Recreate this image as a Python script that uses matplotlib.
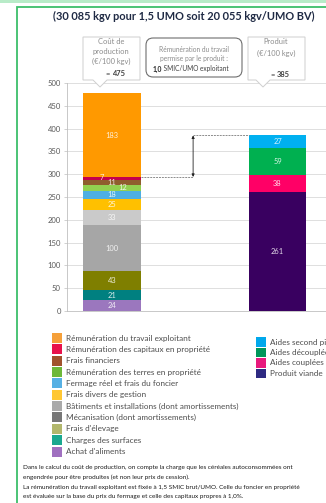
import matplotlib
matplotlib.use("Agg")
import matplotlib.pyplot as plt
from matplotlib.patches import Rectangle, FancyBboxPatch, Polygon

plt.rcParams['font.family'] = ['Lato', 'DejaVu Sans']

# ---------------- data ----------------
bars = ["Coût de production", "Produit"]
cost_labels = ["Achat d'aliments", "Charges des surfaces", "Frais d'élevage",
               "Mécanisation (dont amortissements)",
               "Bâtiments et installations (dont amortissements)",
               "Frais divers de gestion", "Fermage réel et frais du foncier",
               "Rémunération des terres en propriété", "Frais financiers",
               "Rémunération des capitaux en propriété",
               "Rémunération du travail exploitant"]
cost_values = [24, 21, 43, 100, 33, 25, 18, 12, 11, 7, 183]
prod_labels = ["Produit viande", "Aides couplées", "Aides découplées",
               "Aides second pilier"]
prod_values = [261, 38, 59, 27]
cost_total_text = "475"
prod_total_text = "385"
title = "(30 085 kgv pour 1,5 UMO soit 20 055 kgv/UMO BV)"
yticks = [0, 50, 100, 150, 200, 250, 300, 350, 400, 450, 500]
footer = ["Dans le calcul du coût de production, on compte la charge que les céréales autoconsommées ont",
          "engendrée pour être produites (et non leur prix de cession).",
          "La rémunération du travail exploitant est fixée à 1,5 SMIC brut/UMO. Celle du foncier en propriété",
          "est évaluée sur la base du prix du fermage et celle des capitaux propres à 1,0%."]

# ---------------- style ----------------
cost_colors = ["#9B77BE", "#008080", "#7F7F00", "#A6A6A6", "#CACACA", "#FFC000",
               "#4EAFE2", "#92D050", "#8F5E2E", "#C4004C", "#FF9900"]
prod_colors = ["#390060", "#FF0066", "#00B050", "#00B0F0"]
cost_leg_colors = ["#A070C0", "#1AA88F", "#B2B76C", "#777777", "#AAAAAA", "#FFC733",
                   "#56B0E4", "#6DB83A", "#A0522D", "#E8124C", "#F5A03A"]
prod_leg_colors = ["#2E2A82", "#E8197D", "#00965A", "#00A8EC"]
label_dx = [0, 0, 0, 0, 0, 0, 0, 0.065, 0, -0.06, 0]
label_dy = [0, 0, 0, 0, 0, 0, 0, 0, 0, 2, 0]

W, H = 326, 503
fig = plt.figure(figsize=(W / 100, H / 100), dpi=100)

def fx(x):
    return x / W

def fy(y):
    return 1 - y / H

# frame
fig.add_artist(Rectangle((fx(0), fy(2.5)), 1, 2.5 / H, transform=fig.transFigure,
                         color="#B8EBC8", lw=0))
fig.add_artist(Rectangle((fx(16.5), fy(560)), 1, (560 - 6.5) / H, transform=fig.transFigure,
                         fill=False, ec="#3DBE6A", lw=1.3))

# axes
ax = fig.add_axes([fx(67), fy(311), (W - 67) / W, 228 / H])
ax.set_ylim(0, 500)
ax.set_xlim(-0.272, 1.293)
ax.set_yticks(yticks)
ax.set_yticklabels([str(t) for t in yticks])
ax.tick_params(axis='y', labelsize=5.5, labelcolor="#595959", length=2.5, width=0.5,
               color="#BFBFBF", pad=2)
ax.set_xticks([])
for s in ["top", "right"]:
    ax.spines[s].set_visible(False)
ax.spines["left"].set_color("#BFBFBF")
ax.spines["left"].set_linewidth(0.6)
ax.spines["bottom"].set_color("#BFBFBF")
ax.spines["bottom"].set_linewidth(0.6)
ax.yaxis.grid(True, color="#D9D9D9", lw=0.6)
ax.set_axisbelow(True)
ax.patch.set_alpha(0)

bw = 0.35
bottom = 0
for i, (v, c) in enumerate(zip(cost_values, cost_colors)):
    ax.bar(0, v, bw, bottom=bottom, color=c, lw=0)
    ax.text(0 + label_dx[i], bottom + v / 2 + label_dy[i], str(v), ha="center", va="center",
            fontsize=5.4, color="white", alpha=0.85)
    bottom += v
cost_total = bottom
bottom = 0
for v, c in zip(prod_values, prod_colors):
    ax.bar(1, v, bw, bottom=bottom, color=c, lw=0)
    ax.text(1, bottom + v / 2, str(v), ha="center", va="center",
            fontsize=5.4, color="white", alpha=0.85)
    bottom += v
prod_total = bottom

# dashed lines & arrow
y_low = cost_total - cost_values[-1]
xa = 0.49
ax.plot([bw / 2, xa], [y_low, y_low], ls=(0, (2, 1)), color="#8C8C8C", lw=0.7)
ax.plot([xa, 1 - bw / 2], [prod_total, prod_total], ls=(0, (2, 1)), color="#8C8C8C", lw=0.7)
ax.annotate("", xy=(xa, prod_total), xytext=(xa, y_low),
            arrowprops=dict(arrowstyle="<|-|>", color="#222222", lw=0.6,
                            mutation_scale=4, shrinkA=0, shrinkB=0))

# title
fig.text(fx(184), fy(16), title, ha="center", va="center", fontsize=7.9,
         fontweight="bold", color="#1F2A44")

# callout boxes
def callout(x0, x1, y0, y1, px):
    pts = [(fx(x0), fy(y0)), (fx(x1), fy(y0)), (fx(x1), fy(y1)), (fx(px + 7), fy(y1)),
           (fx(px), fy(y1 + 7)), (fx(px - 7), fy(y1)), (fx(x0), fy(y1))]
    fig.add_artist(Polygon(pts, closed=True, transform=fig.transFigure,
                           fc="white", ec="#CFCFCF", lw=0.7))

gc = "#8C8C8C"
callout(83, 140, 37, 80, 100)
cx = 111
for j, t in enumerate(["Coût de", "production", "(€/100 kgv)"]):
    fig.text(fx(cx), fy(41.5 + j * 10.2), t, ha="center", va="center", fontsize=5.4, color=gc)
fig.text(fx(cx + 1), fy(73.5), "= ", ha="right", va="center", fontsize=5.4, color="#404040")
fig.text(fx(cx + 1), fy(73.5), cost_total_text, ha="left", va="center", fontsize=5.4,
         color="#404040", fontweight="bold")

callout(248, 305, 37, 80, 263)
cx = 276
for j, t in enumerate(["Produit", "(€/100 kgv)"]):
    fig.text(fx(cx), fy(42 + j * 11), t, ha="center", va="center", fontsize=5.4, color=gc)
fig.text(fx(cx + 1), fy(74.5), "= ", ha="right", va="center", fontsize=5.4, color="#404040")
fig.text(fx(cx + 1), fy(74.5), prod_total_text, ha="left", va="center", fontsize=5.4,
         color="#404040", fontweight="bold")

fig.add_artist(FancyBboxPatch((fx(146), fy(77)), (242 - 146) / W, (77 - 38) / H,
                              boxstyle="round,pad=0,rounding_size=0.022",
                              transform=fig.transFigure, fc="white", ec="#6E6E6E", lw=0.8,
                              mutation_aspect=W / H))
cx = 194
fig.text(fx(cx), fy(49), "Rémunération du travail", ha="center", va="center",
         fontsize=4.8, color=gc)
fig.text(fx(cx), fy(59), "permise par le produit :", ha="center", va="center",
         fontsize=4.8, color=gc)
fig.text(fx(162), fy(69), "1,0", ha="right", va="center", fontsize=4.9,
         color="#262626", fontweight="bold")
fig.text(fx(162), fy(69), " SMIC/UMO exploitant", ha="left", va="center", fontsize=4.7,
         color="#404040")

# legend (left column, top to bottom = reversed stack)
lc = "#4D4D4D"
for k, (lab, c) in enumerate(zip(cost_labels[::-1], cost_leg_colors[::-1])):
    yc = 338 + k * 11.35
    fig.add_artist(Rectangle((fx(51.5), fy(yc + 5)), 10 / W, 10 / H,
                             transform=fig.transFigure, color=c, lw=0))
    fig.text(fx(66), fy(yc), lab, ha="left", va="center", fontsize=5.9, color=lc)
for k, (lab, c) in enumerate(zip(prod_labels[::-1], prod_leg_colors[::-1])):
    yc = 342 + k * 10.5
    fig.add_artist(Rectangle((fx(256), fy(yc + 4.7)), 10 / W, 9.4 / H,
                             transform=fig.transFigure, color=c, lw=0))
    fig.text(fx(270), fy(yc), lab, ha="left", va="center", fontsize=5.9, color=lc)

# footer
for k, t in enumerate(footer):
    fig.text(fx(23), fy(468 + k * 9.6), t, ha="left", va="center", fontsize=4.6,
             color="#1A1A1A")

fig.savefig("out.png", dpi=100)
